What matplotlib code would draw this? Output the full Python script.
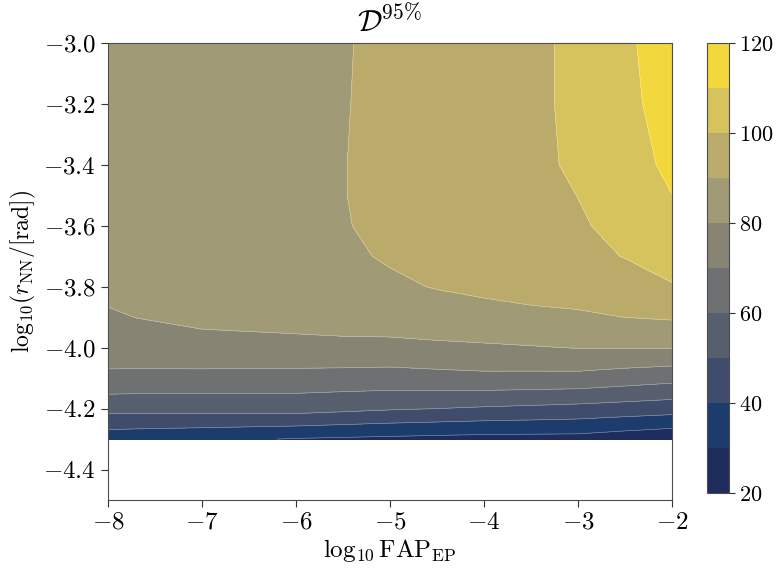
import numpy as np
import matplotlib
matplotlib.use("Agg")
import matplotlib.pyplot as plt

plt.rcParams["font.family"] = "serif"
plt.rcParams["font.serif"] = ["cmr10"]
plt.rcParams["mathtext.fontset"] = "cm"
plt.rcParams["axes.formatter.use_mathtext"] = True
plt.rcParams["axes.unicode_minus"] = True

# grid
log_fap = [-8, -7.7, -7, -6, -5.5, -5, -4.5, -4, -3.5, -3, -2.5, -2]
log_rnn = [-4.3, -4.2, -4.1, -4.0, -3.9, -3.8, -3.7, -3.6, -3.5, -3.4, -3.2, -3.0]

# D95% values, one row per log_rnn entry, columns follow log_fap
d95 = [
    [34.0, 33.5, 32.0, 29.5, 28.7, 28.0, 27.3, 26.7, 26.6, 26.5, 24.3, 22.2],
    [53.3, 53.0, 53.5, 54.0, 52.5, 51.0, 50.0, 48.9, 48.0, 47.0, 45.7, 44.4],
    [67.5, 67.3, 66.5, 66.0, 66.0, 66.0, 66.8, 67.5, 67.2, 67.0, 65.0, 63.1],
    [75.8, 76.0, 78.0, 78.5, 77.8, 77.0, 77.8, 78.5, 79.4, 80.3, 80.4, 80.5],
    [79.0, 80.1, 81.3, 81.8, 83.7, 85.6, 87.0, 88.3, 88.7, 89.0, 90.05, 91.0],
    [82.0, 82.5, 83.5, 84.0, 86.5, 89.0, 90.3, 91.0, 92.0, 93.0, 96.0, 99.5],
    [84.0, 84.0, 85.0, 86.0, 89.0, 90.6, 92.0, 93.0, 94.5, 97.5, 100.3, 103.0],
    [85.0, 85.0, 86.0, 87.5, 89.7, 91.2, 93.0, 94.0, 96.0, 99.0, 102.5, 107.0],
    [86.0, 86.0, 86.5, 88.0, 89.9, 91.0, 93.5, 95.0, 97.0, 100.1, 104.0, 109.9],
    [86.0, 86.5, 87.0, 88.5, 89.9, 91.0, 93.5, 95.5, 98.5, 101.0, 106.0, 112.0],
    [86.5, 87.0, 87.5, 88.8, 89.8, 91.0, 93.5, 95.5, 98.0, 102.0, 107.0, 115.0],
    [87.0, 87.5, 88.0, 89.0, 89.7, 91.0, 93.0, 95.0, 98.0, 102.0, 108.0, 116.0],
]

levels = [20, 30, 40, 50, 60, 70, 80, 90, 100, 110, 120]
cbar_ticks = [20, 40, 60, 80, 100, 120]

# band colours as they look in the picture (close to cividis)
band_colors = ["#1f2d5e", "#1d3c6e", "#3f4c6c", "#575e6d", "#6f7071",
               "#888474", "#a09a76", "#baab6b", "#d6c35e", "#f2d83d"]

fig = plt.figure(figsize=(7.79, 5.72), dpi=100)
ax = fig.add_axes([0.1386, 0.1259, 0.724, 0.799])
cax = fig.add_axes([0.9076, 0.138, 0.0282, 0.787])

X, Y = np.meshgrid(log_fap, log_rnn)
Z = np.array(d95)
cf = ax.contourf(X, Y, Z, levels=levels, colors=band_colors)
ax.contour(X, Y, Z, levels=levels, colors="white", linewidths=0.4, alpha=0.5)

ax.set_xlim(-8, -2)
ax.set_ylim(-4.5, -3.0)
ax.set_xticks([-8, -7, -6, -5, -4, -3, -2])
ax.set_yticks([-4.4, -4.2, -4.0, -3.8, -3.6, -3.4, -3.2, -3.0])
ax.tick_params(labelsize=18, length=5, direction="out", color="0.2")
for s in ax.spines.values():
    s.set_color("0.3")

ax.set_xlabel(r"$\log_{10}\mathrm{FAP}_{\mathrm{EP}}$", fontsize=18, labelpad=2)
ax.set_ylabel(r"$\log_{10}\!(r_{\mathrm{NN}}/[\mathrm{rad}])$", fontsize=17, labelpad=4)
ax.set_title(r"$\mathcal{D}^{95\%}$", fontsize=22, pad=8)

cb = fig.colorbar(cf, cax=cax, ticks=cbar_ticks)
cb.ax.tick_params(labelsize=16, length=4, color="0.2")
cb.outline.set_edgecolor("0.3")

fig.savefig("out.png", dpi=100)
